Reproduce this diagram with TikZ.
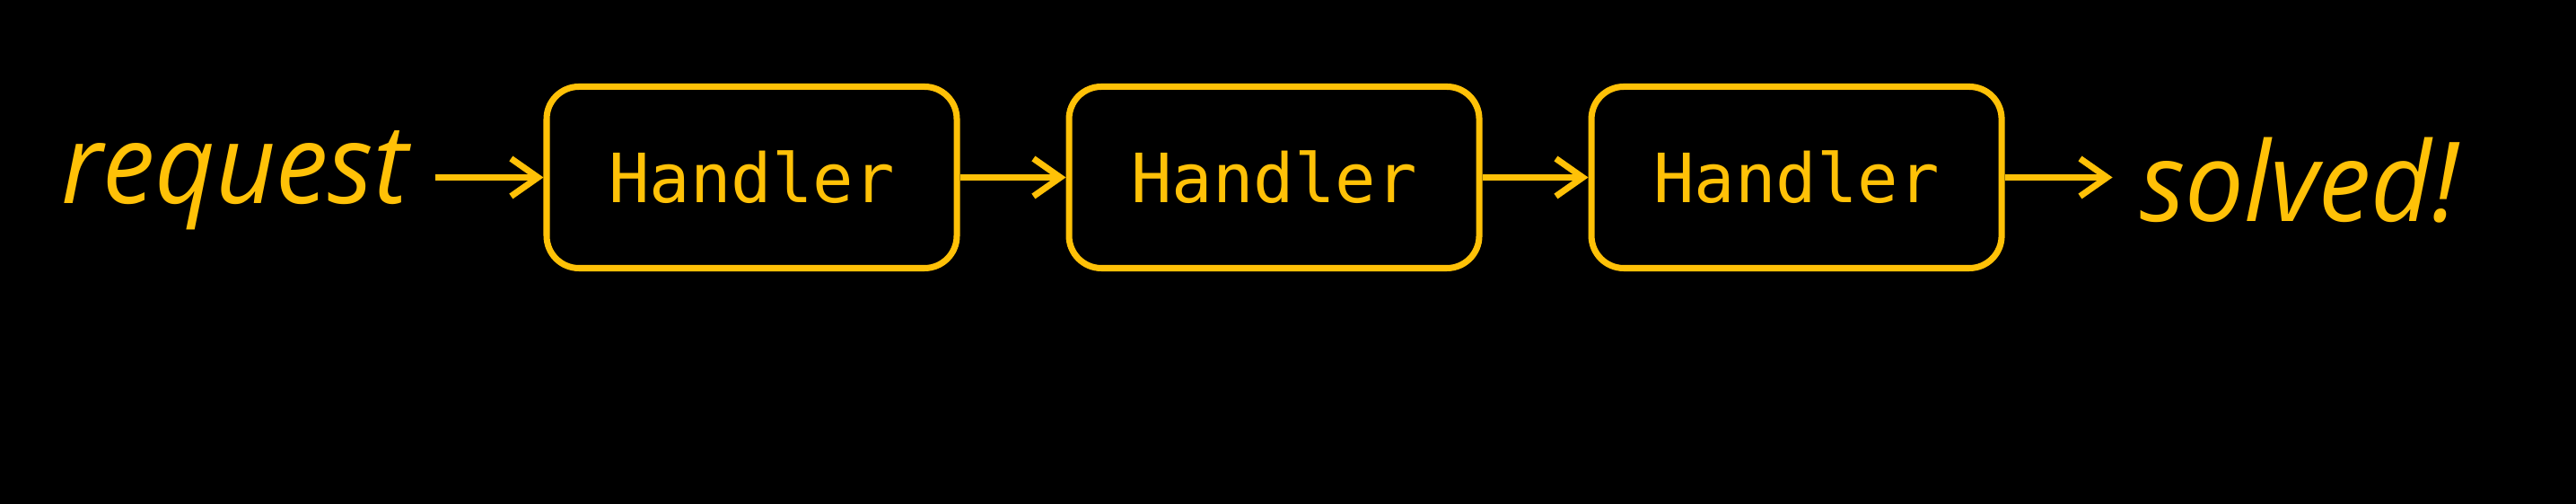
\documentclass[tikz,border=0pt]{standalone}
\usepackage{fontspec}
\usepackage{xcolor}
\usepackage{tikz}
\usetikzlibrary{
    positioning,
    arrows.meta
}
\newfontfamily\codefont{DejaVu Sans Mono}
\newfontfamily\talkfont{Open Sans}[FakeStretch=0.95]
\definecolor{amber}{HTML}{FFC107}

\begin{document}
\begin{tikzpicture}[
    handler/.style={draw=amber, line width=2pt, rounded corners=0.36cm,
        minimum width=4.57cm, minimum height=2.02cm, inner sep=0pt,
        text=amber, font=\codefont\fontsize{21.5}{24}\selectfont},
    talk/.style={text=amber, inner ysep=0pt, inner xsep=0.3cm,
        font=\talkfont\itshape\fontsize{35}{40}\selectfont},
    flow/.style={draw=amber, line width=2pt,
        -{Straight Barb[length=0.3cm, width=0.42cm]}}
]
    \fill[black] (0,0) rectangle (28.7,5.61);
    \useasboundingbox (0,0) rectangle (28.7,5.61);
    % ハンドラの連鎖
    \node[handler] (h1) at (8.375,3.635) {Handler};
    \node[handler, right=1.18cm of h1] (h2) {Handler};
    \node[handler, right=1.18cm of h2] (h3) {Handler};
    \node[talk, left=1.2cm of h1, yshift=-0.03cm] (req) {request};
    \node[talk, right=1.2cm of h3, yshift=-0.03cm] (done) {solved!};
    \draw[flow] (req.east |- h1) -- (h1);
    \draw[flow] (h1) -- (h2);
    \draw[flow] (h2) -- (h3);
    \draw[flow] (h3) -- (done.west |- h3);
\end{tikzpicture}
\end{document}
